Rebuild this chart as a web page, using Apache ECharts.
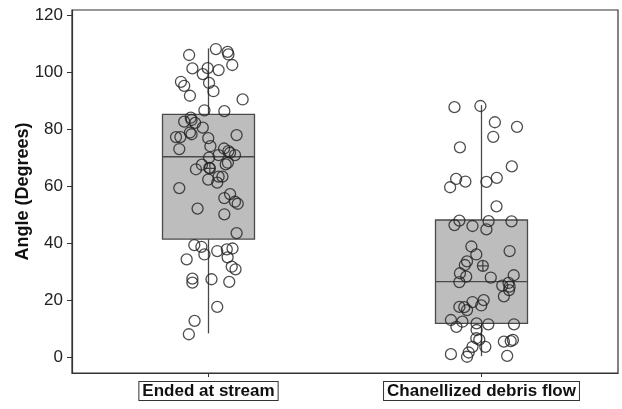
<!DOCTYPE html>
<html>
<head>
<meta charset="utf-8">
<script src="https://cdn.jsdelivr.net/npm/echarts@6/dist/echarts.min.js"></script>
<style>
html,body{margin:0;padding:0;background:#fff;}
#chart{width:622px;height:409px;}
</style>
</head>
<body>
<div id="chart"></div>
<script>
// ---- data ----
const categories = ['Ended at stream', 'Chanellized debris flow'];
const yTickValues = [0, 20, 40, 60, 80, 100, 120];
// [min, Q1, median, Q3, max]
const boxEnded = [8.3, 41.4, 70.3, 85.2, 108.3];
const boxChannel = [0.3, 11.8, 26.5, 48.1, 88.4];
const meanValues = [66.2, 32.0];
const meanJitter = [0.005, 0.005];

const endedValues = [108.1,107.1,106.2,106.0,102.5,101.3,101.4,100.7,99.3,96.6,95.2,96.2,93.3,91.7,90.4,86.6,86.3,84.0,82.6,82.2,80.5,78.8,78.2,77.2,77.2,76.8,77.9,73.0,74.0,73.2,72.3,71.7,70.9,70.9,70.0,67.5,65.9,66.4,67.6,68.2,62.3,61.2,63.3,63.3,59.3,57.2,55.8,54.5,53.8,52.1,50.1,43.5,39.3,38.7,36.0,34.3,37.2,37.8,38.1,35.0,31.7,30.8,27.5,26.1,27.3,26.4,17.6,12.7,8.0,83.2];
const endedJitter = [0.027,0.070,0.073,-0.071,0.087,-0.059,-0.003,0.037,-0.021,-0.101,-0.089,0.002,0.018,-0.068,0.125,-0.015,0.058,-0.065,-0.089,-0.049,-0.021,-0.068,-0.062,-0.119,-0.103,-0.001,0.103,-0.107,0.007,0.057,0.073,0.079,0.097,0.037,0.002,-0.024,-0.046,0.003,0.063,0.071,-0.001,0.032,0.037,0.051,-0.107,0.079,0.058,0.097,0.107,-0.040,0.058,0.103,-0.052,-0.026,-0.015,-0.080,0.032,0.067,0.088,0.070,0.085,0.099,-0.059,-0.059,0.011,0.076,0.032,-0.051,-0.072,-0.062];

const channelValues = [87.7,88.1,82.4,80.8,77.3,73.6,66.9,62.5,61.6,59.6,61.5,62.9,52.9,47.9,46.3,46.0,47.7,44.8,47.6,38.8,36.0,37.2,33.6,32.3,29.4,28.2,26.3,27.9,28.7,25.1,26.0,24.7,23.5,21.3,19.3,20.0,18.1,17.6,17.5,16.5,13.0,10.6,12.4,11.8,11.5,11.5,9.5,6.6,6.1,3.6,3.6,5.4,6.0,5.6,1.0,1.6,0.1,0.4];
const channelJitter = [-0.099,-0.004,0.049,0.130,0.043,-0.079,0.111,-0.093,-0.059,-0.115,0.018,0.056,0.055,-0.081,-0.099,-0.033,0.026,0.018,0.110,-0.037,-0.019,0.103,-0.053,-0.061,-0.079,-0.056,-0.081,0.034,0.118,0.076,0.099,0.103,0.101,0.082,-0.033,0.008,-0.001,-0.081,-0.063,-0.053,-0.112,-0.092,-0.070,-0.018,0.025,0.119,-0.018,-0.019,-0.008,0.014,-0.033,0.082,0.115,0.107,-0.112,-0.047,-0.053,0.094];

// ---- build ----
const boxData = [[0].concat(boxEnded), [1].concat(boxChannel)];
const scatterEnded = endedValues.map((v, i) => [0 + endedJitter[i], v]);
const scatterChannel = channelValues.map((v, i) => [1 + channelJitter[i], v]);
const meanData = meanValues.map((v, i) => [i + meanJitter[i], v]);

const chart = echarts.init(document.getElementById('chart'), null, {renderer: 'canvas'});
const FONT = 'Liberation Sans, Arial, Helvetica, sans-serif';

function renderBox(params, api) {
  const idx = api.value(0);
  const vMin = api.value(1), q1 = api.value(2), med = api.value(3), q3 = api.value(4), vMax = api.value(5);
  const pMin = api.coord([idx, vMin]);
  const pQ1 = api.coord([idx, q1]);
  const pMed = api.coord([idx, med]);
  const pQ3 = api.coord([idx, q3]);
  const pMax = api.coord([idx, vMax]);
  const band = api.size([1, 0])[0];
  const w = band * 0.337;
  const x = pMed[0];
  const lineStyle = {stroke: '#4a4a4a', lineWidth: 1.3};
  return {
    type: 'group',
    children: [
      {type: 'line', shape: {x1: x, y1: pMax[1], x2: x, y2: pQ3[1]}, style: lineStyle},
      {type: 'line', shape: {x1: x, y1: pQ1[1], x2: x, y2: pMin[1]}, style: lineStyle},
      {type: 'rect', shape: {x: x - w / 2, y: pQ3[1], width: w, height: pQ1[1] - pQ3[1]},
        style: {fill: '#bdbdbd', stroke: '#4a4a4a', lineWidth: 1.3}},
      {type: 'line', shape: {x1: x - w / 2, y1: pMed[1], x2: x + w / 2, y2: pMed[1]}, style: lineStyle}
    ]
  };
}

const option = {
  animation: false,
  backgroundColor: '#ffffff',
  grid: {left: 72, right: 4, top: 10, bottom: 36, show: true, borderColor: '#333', borderWidth: 1.2,
    backgroundColor: 'transparent', containLabel: false, outerBoundsMode: 'none'},
  xAxis: [
    {
      type: 'category',
      data: categories,
      boundaryGap: true,
      position: 'bottom',
      axisLine: {show: true, onZero: false, lineStyle: {color: '#333', width: 1.2}},
      axisTick: {show: true, alignWithLabel: true, length: 4, lineStyle: {color: '#333'}},
      axisLabel: {
        color: '#111', fontFamily: FONT, fontWeight: 'bold', fontSize: 17, margin: 9,
        borderColor: '#333', borderWidth: 1, padding: [1, 3, 0, 3], backgroundColor: '#fff'
      },
      splitLine: {show: false}
    },
    {
      type: 'value', min: -0.5, max: 1.5, show: false,
      axisLine: {show: false, onZero: false}, splitLine: {show: false}, axisTick: {show: false}, axisLabel: {show: false}
    }
  ],
  yAxis: {
    type: 'value',
    min: -5.6,
    max: 121.8,
    position: 'left',
    name: 'Angle (Degrees)',
    nameLocation: 'middle',
    nameGap: 40,
    nameMoveOverlap: false,
    nameTextStyle: {fontFamily: FONT, fontWeight: 'bold', fontSize: 18, color: '#111'},
    axisLine: {show: true, onZero: false, lineStyle: {color: '#333', width: 1.2}},
    axisTick: {show: true, length: 5, customValues: yTickValues, lineStyle: {color: '#333'}},
    axisLabel: {customValues: yTickValues, fontFamily: FONT, fontSize: 17, color: '#222', margin: 9},
    splitLine: {show: false}
  },
  series: [
    {
      type: 'custom',
      xAxisIndex: 0,
      yAxisIndex: 0,
      data: boxData,
      encode: {x: 0, y: [1, 2, 3, 4, 5]},
      renderItem: renderBox,
      z: 1
    },
    {
      type: 'scatter',
      xAxisIndex: 1,
      data: scatterEnded,
      symbol: 'circle',
      symbolSize: 11,
      itemStyle: {color: 'rgba(0,0,0,0)', borderColor: '#222', borderWidth: 1.3},
      z: 3
    },
    {
      type: 'scatter',
      xAxisIndex: 1,
      data: scatterChannel,
      symbol: 'circle',
      symbolSize: 11,
      itemStyle: {color: 'rgba(0,0,0,0)', borderColor: '#222', borderWidth: 1.3},
      z: 3
    },
    {
      type: 'scatter',
      xAxisIndex: 1,
      data: meanData,
      symbol: 'path://M0,-10 A10,10 0 1,1 0,10 A10,10 0 1,1 0,-10 Z M-10,0 L10,0 M0,-10 L0,10',
      symbolSize: 11,
      itemStyle: {color: 'rgba(0,0,0,0)', borderColor: '#222', borderWidth: 1.3},
      z: 4
    }
  ]
};
chart.setOption(option);
</script>
</body>
</html>
